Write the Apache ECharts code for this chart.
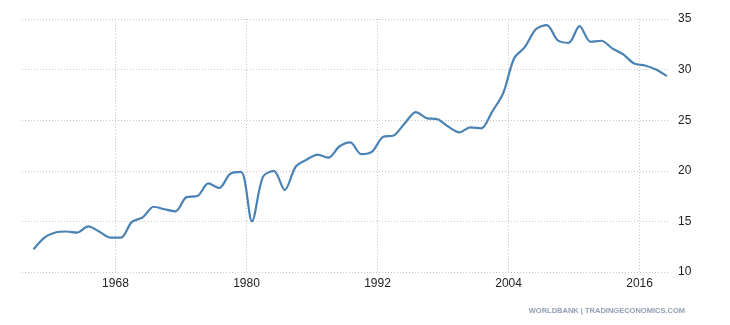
<!DOCTYPE html>
<html>
<head>
<meta charset="utf-8">
<script src="https://cdn.jsdelivr.net/npm/echarts@6/dist/echarts.min.js"></script>
<style>
  html, body { margin: 0; padding: 0; background: #fff; }
  #chart { width: 730px; height: 325px; }
</style>
</head>
<body>
<div id="chart"></div>
<script>
// yearly values, 1960 - 2018
const years = [];
for (let y = 1960; y <= 2018; y++) years.push(y);
const values = [
  12.25, 13.4, 13.9, 14.0, 13.9, 14.5, 14.0, 13.4, 13.4, 14.95,
  15.4, 16.45, 16.2, 16.0, 17.4, 17.5, 18.75, 18.3, 19.7, 19.9,
  15.0, 19.4, 20.0, 18.1, 20.4, 21.1, 21.6, 21.3, 22.4, 22.8,
  21.65, 21.9, 23.35, 23.5, 24.7, 25.8, 25.2, 25.1, 24.35, 23.8,
  24.3, 24.2, 25.85, 27.65, 31.1, 32.25, 33.98, 34.4, 32.9, 32.65,
  34.3, 32.75, 32.85, 32.1, 31.5, 30.6, 30.4, 30.0, 29.35
];
const xTicks = [1968, 1980, 1992, 2004, 2016];
const yTicks = [10, 15, 20, 25, 30, 35];

// points sit in the middle of each year
const points = years.map((y, i) => [y + 0.5, values[i]]);

const chart = echarts.init(document.getElementById('chart'));
chart.setOption({
  animation: false,
  grid: { left: 22, right: 62, top: 19, bottom: 53 },
  xAxis: {
    type: 'value',
    min: 1959.44,
    max: 2018.6,
    axisLine: { show: false },
    axisTick: { show: false, customValues: xTicks },
    axisLabel: {
      customValues: xTicks,
      formatter: v => String(v),
      color: '#222',
      fontFamily: 'Liberation Sans, Arial, sans-serif',
      fontSize: 12,
      margin: 6
    },
    splitLine: { show: true, lineStyle: { color: '#c8c8c8', type: [1, 2], width: 1 } }
  },
  yAxis: {
    type: 'value',
    position: 'right',
    min: yTicks[0],
    max: yTicks[yTicks.length - 1],
    interval: 5,
    axisLine: { show: false },
    axisTick: { show: false },
    axisLabel: {
      color: '#222',
      fontFamily: 'Liberation Sans, Arial, sans-serif',
      fontSize: 12,
      margin: 10
    },
    splitLine: { show: true, lineStyle: { color: '#c8c8c8', type: [1, 2], width: 1 } }
  },
  series: [{
    type: 'line',
    data: points,
    smooth: 0.3,
    symbol: 'none',
    lineStyle: { color: '#4a82b4', width: 2.2 }
  }],
  graphic: [{
    type: 'text',
    right: 45,
    top: 307,
    style: {
      text: 'WORLDBANK | TRADINGECONOMICS.COM',
      fill: '#8fa0b4',
      font: 'bold 7.5px "Liberation Sans", Arial, sans-serif'
    }
  }]
});
</script>
</body>
</html>
